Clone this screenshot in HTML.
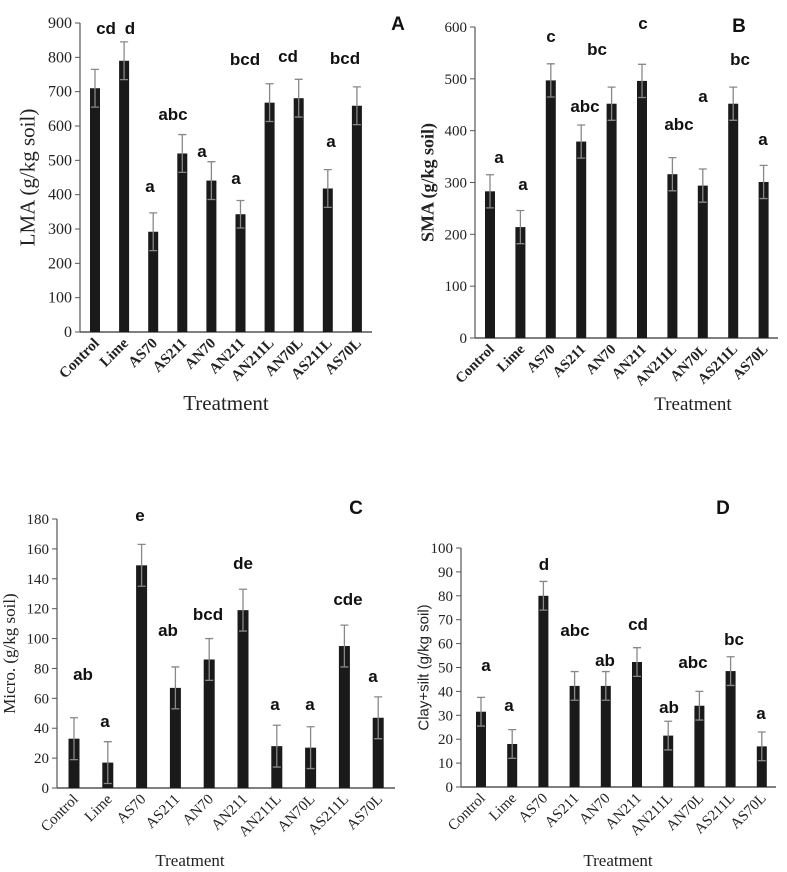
<!DOCTYPE html>
<html><head><meta charset="utf-8"><style>
body{margin:0;background:#fff;width:787px;height:872px;overflow:hidden}
svg{display:block}
</style></head><body>
<svg id="fig" width="787" height="872" xmlns="http://www.w3.org/2000/svg"></svg>
<script>
const categories=["Control","Lime","AS70","AS211","AN70","AN211","AN211L","AN70L","AS211L","AS70L"];
const lmaValues=[710,790,292,520,441,343,668,681,418,659];
const lmaErrors=[55,55,55,55,55,40,55,55,55,55];
const lmaTicks=[0,100,200,300,400,500,600,700,800,900];
const lmaLetters=["cd","d","a","abc","a","a","bcd","cd","a","bcd"];
const smaValues=[283,214,497,379,452,496,316,294,452,301];
const smaErrors=[32,32,32,32,32,32,32,32,32,32];
const smaTicks=[0,100,200,300,400,500,600];
const smaLetters=["a","a","c","abc","bc","c","abc","a","bc","a"];
const microValues=[33,17,149,67,86,119,28,27,95,47];
const microErrors=[14,14,14,14,14,14,14,14,14,14];
const microTicks=[0,20,40,60,80,100,120,140,160,180];
const microLetters=["ab","a","e","ab","bcd","de","a","a","cde","a"];
const claySiltValues=[31.5,18,80,42.3,42.3,52.3,21.5,34,48.5,17];
const claySiltErrors=[6,6,6,6,6,6,6,6,6,6];
const claySiltTicks=[0,10,20,30,40,50,60,70,80,90,100];
const claySiltLetters=["a","a","d","abc","ab","cd","ab","abc","bc","a"];

const NS="http://www.w3.org/2000/svg";
const svg=document.getElementById('fig');
function mk(tag,attrs,parent,text){const e=document.createElementNS(NS,tag);for(const k in attrs)e.setAttribute(k,attrs[k]);if(text!==undefined)e.textContent=text;(parent||svg).appendChild(e);return e;}

const panels=[
 {id:"lma",values:lmaValues,errors:lmaErrors,ticks:lmaTicks,letters:lmaLetters,max:900,
  x0:80,y0:332,yTop:23,xEnd:372,c0:95,step:29.1,bw:10,
  ytitle:"LMA (g/kg soil)",ytFont:"Liberation Serif",ytSize:21,ytWeight:"normal",ytX:20,
  tickFont:16,xlabBold:true,xlabSize:15,xtitle:[226,410,21],panel:["A",398,30],
  letterPos:[[106,34],[130,34],[150,192],[173,120],[202,157],[236,184],[245,65],[288,62],[331,147],[345,64]]},
 {id:"sma",values:smaValues,errors:smaErrors,ticks:smaTicks,letters:smaLetters,max:600,
  x0:475,y0:338,yTop:27,xEnd:778,c0:490,step:30.4,bw:10,
  ytitle:"SMA (g/kg soil)",ytFont:"Liberation Serif",ytSize:18,ytWeight:"bold",ytX:421,
  tickFont:15,xlabBold:true,xlabSize:14.5,xtitle:[693,410,19],panel:["B",739,32],
  letterPos:[[499,163],[523,190],[551,42],[585,112],[597,55],[643,29],[679,130],[703,102],[740,65],[763,145]]},
 {id:"micro",values:microValues,errors:microErrors,ticks:microTicks,letters:microLetters,max:180,
  x0:57,y0:788,yTop:519,xEnd:395,c0:74,step:33.8,bw:11,
  ytitle:"Micro. (g/kg soil)",ytFont:"Liberation Serif",ytSize:17,ytWeight:"normal",ytX:3,
  tickFont:15,xlabBold:false,xlabSize:15,xtitle:[190,866,17],panel:["C",356,514],
  letterPos:[[83,680],[105,727],[140,521],[168,636],[208,620],[243,569],[275,710],[310,710],[348,605],[373,682]]},
 {id:"clay-silt",values:claySiltValues,errors:claySiltErrors,ticks:claySiltTicks,letters:claySiltLetters,max:100,
  x0:461,y0:787,yTop:548,xEnd:776,c0:481,step:31.2,bw:10,
  ytitle:"Clay+silt (g/kg soil)",ytFont:"Liberation Sans",ytSize:15,ytWeight:"normal",ytX:418,
  tickFont:15,xlabBold:false,xlabSize:15,xtitle:[618,866,17],panel:["D",723,514],
  letterPos:[[486,671],[509,711],[544,570],[575,636],[605,666],[638,630],[669,713],[693,668],[734,645],[761,719]]}
];

panels.forEach(p=>{
  const g=mk('g',{});
  
  
  const y=v=>p.y0-(v/p.max)*(p.y0-p.yTop);
  const x=i=>p.c0+i*p.step;
  const ya=mk('line',{x1:p.x0,y1:p.yTop,x2:p.x0,y2:p.y0,stroke:'#555','stroke-width':1.2},g);
  
  const xa=mk('line',{x1:p.x0,y1:p.y0,x2:p.xEnd,y2:p.y0,stroke:'#555','stroke-width':1.5},g);
  
  p.ticks.forEach(t=>{
    mk('line',{x1:p.x0-5,y1:y(t),x2:p.x0,y2:y(t),stroke:'#555'},g);
    const tl=mk('text',{x:p.x0-8,y:y(t)+5,'text-anchor':'end','font-family':'Liberation Serif, serif','font-size':p.tickFont,fill:'#222'},g,String(t));
    
  });
  p.values.forEach((v,i)=>{
    const b=mk('rect',{x:x(i)-p.bw/2,y:y(v),width:p.bw,height:p.y0-y(v),fill:'#1a1a1a'},g);
    
    
    const e=p.errors[i];
    const eb=mk('path',{d:`M${x(i)},${y(v+e)}V${y(v-e)}M${x(i)-4},${y(v+e)}H${x(i)+4}M${x(i)-4},${y(v-e)}H${x(i)+4}`,stroke:'#888','stroke-width':1.3,fill:'none'},g);
    
    
    const xl=mk('text',{x:0,y:0,'text-anchor':'end','font-family':'Liberation Serif, serif','font-size':p.xlabSize,'font-weight':p.xlabBold?'bold':'normal',fill:'#222',transform:`translate(${x(i)+5},${p.y0+12}) rotate(-45)`},g,categories[i]);
    
    
  });
  p.letters.forEach((L,i)=>{
    const lt=mk('text',{x:p.letterPos[i][0],y:p.letterPos[i][1],'text-anchor':'middle','font-family':'Liberation Sans, sans-serif','font-size':17,'font-weight':'bold',fill:'#111'},g,L);
    
    
  });
  const cy=(p.y0+p.yTop)/2;
  const yt=mk('text',{x:0,y:0,'text-anchor':'middle','font-family':p.ytFont+', serif','font-size':p.ytSize,'font-weight':p.ytWeight,fill:'#222',transform:`translate(${p.ytX+p.ytSize*0.7},${cy}) rotate(-90)`},g,p.ytitle);
  
  const xt=mk('text',{x:p.xtitle[0],y:p.xtitle[1],'text-anchor':'middle','font-family':'Liberation Serif, serif','font-size':p.xtitle[2],fill:'#222'},g,'Treatment');
  
  const pl=mk('text',{x:p.panel[1],y:p.panel[2],'text-anchor':'middle','font-family':'Liberation Sans, sans-serif','font-size':19,'font-weight':'bold',fill:'#111'},g,p.panel[0]);
  
});
</script>
</body></html>
